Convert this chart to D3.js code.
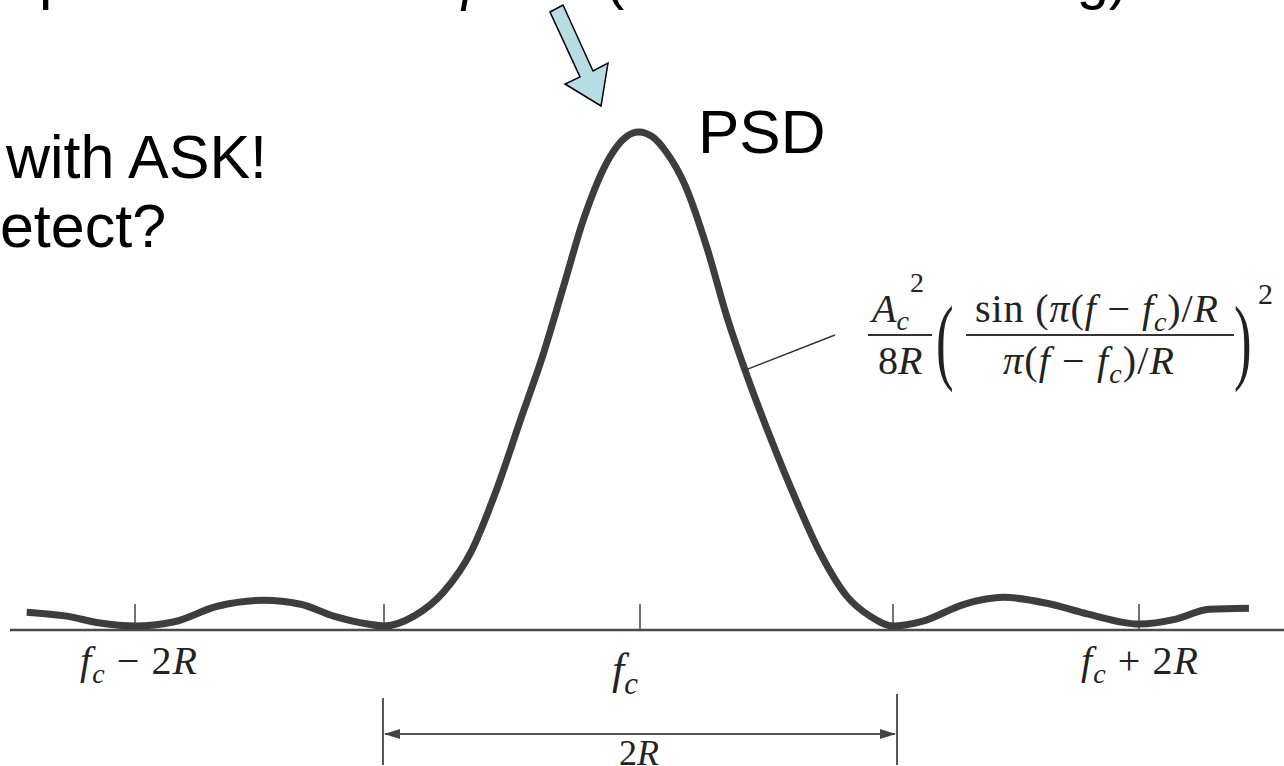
<!DOCTYPE html>
<html>
<head>
<meta charset="utf-8">
<script src="https://cdn.jsdelivr.net/npm/d3@7"></script>
<style>
html,body{margin:0;padding:0;background:#fff;overflow:hidden;}
svg{display:block;}
</style>
</head>
<body>
<svg id="chart" width="1284" height="766"></svg>
<script>
// ---- data (x in units of R relative to fc, y relative PSD) ----
const tickValues = [-2, -1, 0, 1, 2];
const curveX = [-2.435,-2.274,-2.141,-2.0,-1.847,-1.669,-1.484,-1.335,-1.202,-1.065,-1.0,
  -0.883,-0.767,-0.661,-0.556,-0.467,-0.377,-0.300,-0.222,-0.117,-0.055,-0.005,
  0.050,0.100,0.180,0.265,0.344,0.415,0.514,0.621,0.711,0.818,0.909,1.0,
  1.122,1.289,1.451,1.626,1.793,2.0,2.150,2.285,2.447];
const curveY = [0.028,0.020,0.006,0.0,0.008,0.040,0.052,0.044,0.020,0.004,0.0,
  0.020,0.069,0.149,0.282,0.417,0.552,0.685,0.821,0.950,0.990,1.0,
  0.990,0.962,0.890,0.765,0.625,0.518,0.383,0.250,0.149,0.060,0.020,0.0,
  0.010,0.044,0.058,0.046,0.024,0.004,0.014,0.034,0.036];
const bandwidthSpan = [-1, 1];     // 2R null-to-null
const labelPoint = [0.415, 0.518]; // where the formula pointer touches the curve

// ---- scales ----
const x = d3.scaleLinear().domain([-2,-1,0,1,2]).range([135,384,640,893,1139]);
const y = d3.scaleLinear().domain([0,1]).range([626,132]);
const axisY = 630;

const svg = d3.select("#chart");
const serif = "'Liberation Serif','Times New Roman',serif";
const sans = "'Liberation Sans',Arial,sans-serif";

// ---- cut-off slide text at top (only descenders show) ----
const topLine = svg.append("text").attr("y", -2).attr("font-family", sans).attr("font-size", 60).attr("fill","#000");
topLine.append("tspan").attr("x", -1).text("Spectrum at");
topLine.append("tspan").attr("x", 460).attr("font-family", serif).attr("font-style","italic").text("f");
topLine.append("tspan").attr("font-family", serif).attr("font-style","italic").attr("font-size",40).text("c");
svg.append("text").attr("x", 605).attr("y", -2).attr("font-family", sans).attr("font-size", 60)
  .attr("textLength", 523).attr("lengthAdjust","spacingAndGlyphs").text("(main lobe is strong)");

svg.append("text").attr("x", 6).attr("y", 178).attr("font-family", sans).attr("font-size", 61).text("with ASK!");
svg.append("text").attr("x", -34).attr("y", 247).attr("font-family", sans).attr("font-size", 61).text("detect?");

// ---- arrow ----
svg.append("polygon")
  .attr("points", [[550,12],[563,5],[593,71],[608,63],[601,106],[565,84],[580,77]].map(p=>p.join(",")).join(" "))
  .attr("fill", "#b5dde3").attr("stroke", "#000").attr("stroke-width", 1.5).attr("stroke-linejoin","miter");

svg.append("text").attr("x", 698).attr("y", 153).attr("font-family", sans).attr("font-size", 62).text("PSD");

// ---- axis ----
svg.append("line").attr("x1", 10).attr("x2", 1284).attr("y1", axisY).attr("y2", axisY)
  .attr("stroke", "#4a4a4a").attr("stroke-width", 2.5);
svg.selectAll("line.tick").data(tickValues).join("line").attr("class","tick")
  .attr("x1", d=>x(d)).attr("x2", d=>x(d)).attr("y1", 604).attr("y2", axisY)
  .attr("stroke", "#444").attr("stroke-width", 1.5);

// ---- curve ----
const pts = curveX.map((v,i)=>[v, curveY[i]]);
svg.append("path").datum(pts)
  .attr("d", d3.line().x(d=>x(d[0])).y(d=>y(d[1])).curve(d3.curveMonotoneX))
  .attr("fill","none").attr("stroke","#3d3d3d").attr("stroke-width",7).attr("stroke-linecap","butt");

// ---- math text helper ----
function mathIn(parent, xPos, yPos, parts, size, len){
  const t = parent.append("text").attr("x", xPos).attr("y", yPos).attr("font-family", serif).attr("font-size", size).attr("fill","#222");
  if (len) t.attr("textLength", len).attr("lengthAdjust","spacing");
  parts.forEach(p=>{
    const s = t.append("tspan").text(p.t);
    if (p.i) s.attr("font-style","italic");
    if (p.sub) s.attr("font-size", size*0.7).attr("dy", size*0.22);
    if (p.up) s.attr("dy", -size*0.22);
  });
  return t;
}
mathIn(svg, x(-2)-55, 674, [{t:"f",i:1},{t:"c",i:1,sub:1},{t:" − 2",up:1},{t:"R",i:1}], 40, 117);
mathIn(svg, x(0)-28, 684, [{t:"f",i:1},{t:"c",i:1,sub:1}], 44);
mathIn(svg, x(2)-58, 674, [{t:"f",i:1},{t:"c",i:1,sub:1},{t:" + 2",up:1},{t:"R",i:1}], 40, 117);

// ---- 2R dimension ----
const dimY = 734;
const xl = x(bandwidthSpan[0]) - 1, xr = x(bandwidthSpan[1]) + 4;
svg.append("line").attr("x1", xl).attr("x2", xl).attr("y1", 698).attr("y2", 765).attr("stroke","#444").attr("stroke-width",1.8);
svg.append("line").attr("x1", xr).attr("x2", xr).attr("y1", 694).attr("y2", 765).attr("stroke","#444").attr("stroke-width",1.8);
svg.append("line").attr("x1", xl+2).attr("x2", xr-2).attr("y1", dimY).attr("y2", dimY).attr("stroke","#555").attr("stroke-width",1.8);
svg.append("polygon").attr("points", `${xl+1},${dimY} ${xl+17},${dimY-5} ${xl+17},${dimY+5}`).attr("fill","#444");
svg.append("polygon").attr("points", `${xr-1},${dimY} ${xr-17},${dimY-5} ${xr-17},${dimY+5}`).attr("fill","#444");
mathIn(svg, (xl+xr)/2 - 21, 765, [{t:"2"},{t:"R",i:1}], 36);

// ---- formula pointer ----
svg.append("line").attr("x1", x(labelPoint[0])).attr("y1", y(labelPoint[1])).attr("x2", 835).attr("y2", 335)
  .attr("stroke","#333").attr("stroke-width",1.5);

// ---- formula ----
const fs = 40;
const g = svg.append("g").attr("transform", "translate(0,-12)");
const a = g.append("text").attr("x", 872).attr("y", 334).attr("font-family", serif).attr("font-size", fs).attr("fill","#222");
a.append("tspan").attr("font-style","italic").text("A");
a.append("tspan").attr("font-style","italic").attr("font-size", 28).attr("dy", 8).text("c");
g.append("text").attr("x", 910).attr("y", 304).attr("font-family", serif).attr("font-size", 28).attr("fill","#222").text("2");
g.append("line").attr("x1", 868).attr("x2", 932).attr("y1", 347).attr("y2", 347).attr("stroke","#333").attr("stroke-width",1.8);
const b = g.append("text").attr("x", 878).attr("y", 386).attr("font-family", serif).attr("font-size", fs).attr("fill","#222");
b.append("tspan").text("8");
b.append("tspan").attr("font-style","italic").text("R");
g.append("text").attr("transform","translate(936,384) scale(0.55,1)").attr("font-family", serif).attr("font-size", 96).attr("fill","#222").text("(");
g.append("text").attr("transform","translate(1234,384) scale(0.55,1)").attr("font-family", serif).attr("font-size", 96).attr("fill","#222").text(")");
g.append("text").attr("x", 1258).attr("y", 316).attr("font-family", serif).attr("font-size", 30).attr("fill","#222").text("2");
mathIn(g, 975, 334, [{t:"sin ("},{t:"π",i:1},{t:"("},{t:"f",i:1},{t:" − "},{t:"f",i:1},{t:"c",i:1,sub:1},{t:")/",up:1},{t:"R",i:1}], fs, 243);
g.append("line").attr("x1", 966).attr("x2", 1234).attr("y1", 347).attr("y2", 347).attr("stroke","#333").attr("stroke-width",1.8);
mathIn(g, 1003, 386, [{t:"π",i:1},{t:"("},{t:"f",i:1},{t:" − "},{t:"f",i:1},{t:"c",i:1,sub:1},{t:")/",up:1},{t:"R",i:1}], fs, 171);
</script>
</body>
</html>
